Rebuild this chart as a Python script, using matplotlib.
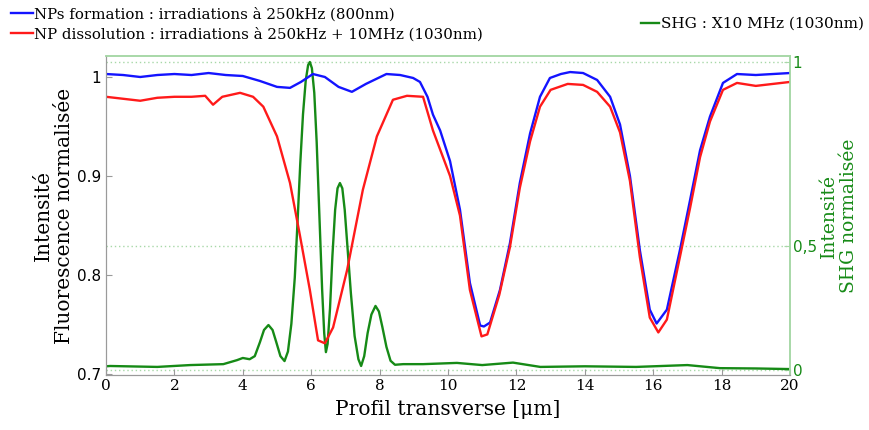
import matplotlib
matplotlib.use('Agg')
from matplotlib import pyplot as plt
import numpy as np

#Data read from the profile (position in um)
blueX = [0, 0.5, 1.0, 1.5, 2.0, 2.5, 3.0, 3.5, 4.0, 4.5, 5.0, 5.38, 5.7, 6.05, 6.4, 6.8, 7.19, 7.6, 8.2, 8.6, 8.98, 9.18, 9.4, 9.56, 9.77, 10.06, 10.35, 10.64, 10.94, 11.05, 11.23, 11.52, 11.81, 12.1, 12.4, 12.69, 12.98, 13.3, 13.57, 13.95, 14.36, 14.74, 15.03, 15.32, 15.61, 15.9, 16.1, 16.4, 16.78, 17.08, 17.37, 17.66, 18.04, 18.45, 19.0, 19.5, 20.0]
blueY = [1.003, 1.002, 1.0, 1.002, 1.003, 1.002, 1.004, 1.002, 1.001, 0.996, 0.99, 0.989, 0.995, 1.003, 1.0, 0.99, 0.985, 0.993, 1.003, 1.002, 0.999, 0.995, 0.98, 0.962, 0.946, 0.915, 0.866, 0.792, 0.749, 0.748, 0.752, 0.785, 0.832, 0.893, 0.943, 0.98, 0.999, 1.003, 1.005, 1.004, 0.997, 0.98, 0.952, 0.9, 0.825, 0.765, 0.751, 0.765, 0.825, 0.876, 0.926, 0.96, 0.994, 1.003, 1.002, 1.003, 1.004]

redX = [0, 0.5, 1.0, 1.5, 2.0, 2.5, 2.9, 3.13, 3.4, 3.92, 4.3, 4.6, 5.0, 5.38, 5.67, 5.96, 6.2, 6.4, 6.64, 7.05, 7.51, 7.92, 8.39, 8.8, 9.27, 9.56, 10.06, 10.35, 10.64, 10.98, 11.15, 11.5, 11.81, 12.1, 12.4, 12.69, 13.0, 13.5, 13.95, 14.36, 14.74, 15.03, 15.32, 15.61, 15.9, 16.15, 16.4, 16.78, 17.08, 17.37, 17.66, 18.04, 18.45, 19.0, 19.5, 20.0]
redY = [0.98, 0.978, 0.976, 0.979, 0.98, 0.98, 0.981, 0.972, 0.98, 0.984, 0.98, 0.97, 0.94, 0.893, 0.84, 0.785, 0.734, 0.731, 0.747, 0.805, 0.886, 0.94, 0.977, 0.981, 0.98, 0.946, 0.9, 0.86, 0.785, 0.738, 0.74, 0.78, 0.828, 0.888, 0.935, 0.97, 0.987, 0.993, 0.992, 0.985, 0.97, 0.944, 0.895, 0.818, 0.757, 0.742, 0.755, 0.818, 0.868, 0.919, 0.955, 0.987, 0.994, 0.991, 0.993, 0.995]

shgX = [0, 0.12, 1.5, 2.46, 3.43, 3.83, 4.0, 4.2, 4.35, 4.5, 4.62, 4.75, 4.87, 4.98, 5.1, 5.22, 5.32, 5.42, 5.52, 5.6, 5.68, 5.76, 5.84, 5.91, 5.96, 6.02, 6.09, 6.16, 6.24, 6.32, 6.38, 6.43, 6.48, 6.55, 6.62, 6.7, 6.77, 6.84, 6.91, 6.98, 7.06, 7.16, 7.27, 7.38, 7.46, 7.55, 7.65, 7.76, 7.88, 7.98, 8.08, 8.2, 8.32, 8.45, 8.69, 9.27, 10.26, 11.0, 11.9, 12.7, 14.0, 15.5, 17.0, 17.95, 19.0, 20.0]
shgY = [0.012, 0.013, 0.01, 0.016, 0.019, 0.032, 0.039, 0.035, 0.045, 0.09, 0.13, 0.146, 0.13, 0.09, 0.045, 0.029, 0.06, 0.15, 0.3, 0.48, 0.67, 0.83, 0.94, 0.99, 1.0, 0.98, 0.9, 0.74, 0.5, 0.26, 0.12, 0.058, 0.085, 0.2, 0.37, 0.52, 0.59, 0.607, 0.59, 0.52, 0.4, 0.25, 0.11, 0.035, 0.013, 0.045, 0.12, 0.18, 0.208, 0.19, 0.14, 0.075, 0.03, 0.017, 0.019, 0.019, 0.023, 0.016, 0.024, 0.01, 0.012, 0.01, 0.016, 0.006, 0.005, 0.003]

leftTicks = [0.7, 0.8, 0.9, 1.0]
leftTickLabels = ['0.7', '0.8', '0.9', '1']
xTicks = [0, 2, 4, 6, 8, 10, 12, 14, 16, 18, 20]
rightTickLabels = ['0', '0,5', '1']

blueColor = '#1414ff'
redColor = '#ff1a1a'
greenColor = '#168a16'
frameGreen = '#a8d8a8'
frameGray = '#9a9a9a'
serifFont = 'DejaVu Serif'

fig = plt.figure(figsize=(8.69, 4.30), dpi=100)
ax = fig.add_axes([106 / 869, 55 / 430, 684 / 869, 319 / 430])
ax2 = ax.twinx()
ax.set_zorder(2)
ax.patch.set_visible(False)

#Right axis: dotted grid lines (as drawn in the original, 0,5 sits low)
rightTicks = [0, 124 / 308, 1]
for v in rightTicks:
    ax2.axhline(v, color=frameGreen, linestyle=(0, (1, 2)), linewidth=1.0, zorder=0)
shgLine, = ax2.plot(shgX, shgY, color=greenColor, linewidth=1.7, label='SHG : X10 MHz (1030nm)')
ax2.set_ylim(-5 / 308, 1 + 6 / 308)
ax2.set_yticks(rightTicks)
ax2.set_yticklabels(rightTickLabels, color=greenColor, fontsize=11)
ax2.tick_params(axis='y', direction='in', length=4, color=frameGreen, pad=2)

blueLine, = ax.plot(blueX, blueY, color=blueColor, linewidth=1.7, label='NPs formation : irradiations à 250kHz (800nm)')
redLine, = ax.plot(redX, redY, color=redColor, linewidth=1.7, label='NP dissolution : irradiations à 250kHz + 10MHz (1030nm)')

#Left/bottom axes
ax.set_xlim(0, 20)
ax.set_ylim(0.699, 1.0212)
ax.set_xticks(xTicks)
ax.set_xticklabels([str(t) for t in xTicks], fontfamily=serifFont, fontsize=11)
ax.set_yticks(leftTicks)
ax.set_yticklabels(leftTickLabels, fontsize=11)
ax.tick_params(direction='in', length=4, color=frameGray)
ax.tick_params(axis='x', pad=3)

for s in ['left', 'bottom']:
    ax.spines[s].set_color(frameGray)
    ax2.spines[s].set_color(frameGray)
for s in ['top', 'right']:
    ax.spines[s].set_color(frameGreen)
    ax2.spines[s].set_color(frameGreen)
    ax.spines[s].set_linewidth(1.2)
    ax2.spines[s].set_linewidth(1.2)

ax.set_xlabel('Profil transverse [μm]', fontfamily=serifFont, fontsize=14.5, labelpad=5)
ax.set_ylabel('Intensité\nFluorescence normalisée', fontfamily=serifFont, fontsize=14.5, labelpad=2, linespacing=1.15)
ax2.set_ylabel('Intensité\nSHG normalisée', fontfamily=serifFont, fontsize=13.5, color=greenColor, rotation=90, labelpad=2, linespacing=1.15)

#Legends above the axes
leg1 = fig.legend(handles=[blueLine, redLine], loc='upper left', bbox_to_anchor=(0.0, 1.008), frameon=False,
                  prop={'family': serifFont, 'size': 10.8}, handlelength=1.5, handletextpad=0.1, labelspacing=0.4, borderaxespad=0.3)
leg2 = fig.legend(handles=[shgLine], loc='upper right', bbox_to_anchor=(1.006, 0.985), frameon=False,
                  prop={'family': serifFont, 'size': 11}, handlelength=1.2, handletextpad=0.1, borderaxespad=0.3)

fig.savefig('out.png', dpi=100)
plt.close('all')
